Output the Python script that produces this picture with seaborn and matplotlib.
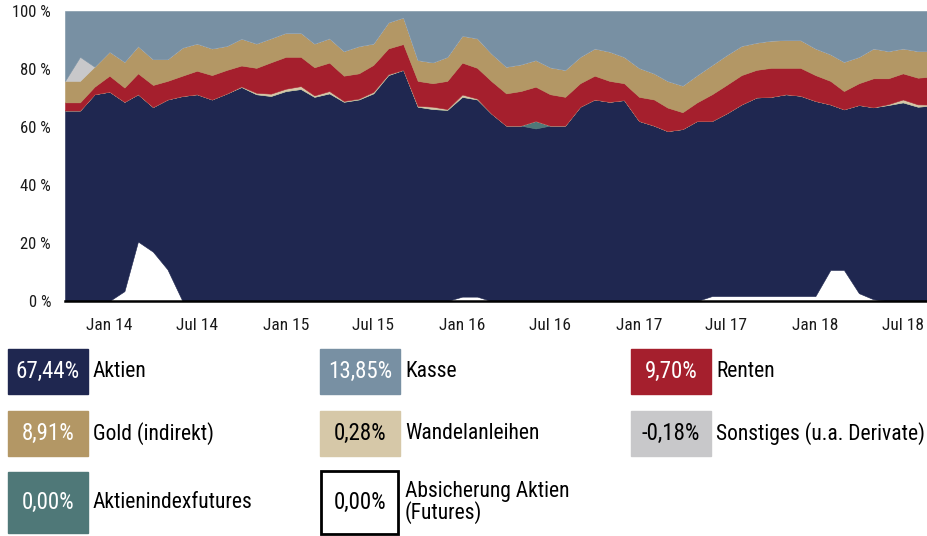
import pandas as pd
import matplotlib.pyplot as plt
from matplotlib.patches import Rectangle
import seaborn as sns

# %% Daten (Anteile in %, monatlich Okt 2013 - Sep 2018)
months = pd.date_range("2013-10-01", periods=60, freq="MS")

aktien = [65.7, 65.7, 71.3, 72.2, 68.7, 71.3, 66.9, 69.5, 70.7, 71.3,
          69.5, 71.6, 73.8, 71.3, 70.7, 72.4, 73.1, 70.4, 71.6, 68.7,
          69.5, 71.6, 77.9, 79.7, 67.0, 66.2, 65.9, 70.4, 69.5, 64.7,
          60.5, 60.5, 59.5, 60.5, 60.5, 67.0, 69.5, 68.7, 69.3, 62.1,
          60.5, 58.6, 59.3, 62.1, 62.1, 64.7, 67.8, 70.2, 70.4, 71.3,
          70.8, 69.0, 67.8, 66.1, 67.6, 66.8, 67.6, 68.5, 67.0, 67.44]
absicherung = [0, 0, 0, 0, 3.4, 20.5, 17.0, 10.9, 0, 0,
               0, 0, 0, 0, 0, 0, 0, 0, 0, 0,
               0, 0, 0, 0, 0, 0, 0, 1.5, 1.5, 0,
               0, 0, 0, 0, 0, 0, 0, 0, 0, 0,
               0, 0, 0, 0, 1.7, 1.7, 1.7, 1.7, 1.7, 1.7,
               1.7, 1.7, 10.7, 10.7, 2.7, 0.6, 0, 0, 0, 0]
indexfutures = [0] * 32 + [2.6] + [0] * 27
wandelanleihen = [0, 0, 0, 0, 0, 0, 0, 0, 0, 0,
                  0, 0, 0.2, 0.5, 0.8, 0.8, 1.0, 0.5, 0.8, 0.3,
                  0.3, 0.5, 0.3, 0, 0.3, 0.8, 0.3, 0.8, 0.3, 0,
                  0, 0, 0, 0, 0, 0, 0, 0, 0, 0,
                  0, 0, 0, 0, 0, 0, 0, 0, 0, 0,
                  0, 0, 0, 0, 0, 0, 0.3, 1.0, 0.8, 0.28]
renten = [2.8, 2.8, 2.6, 5.5, 4.9, 7.2, 7.6, 6.4, 7.0, 8.1,
          8.4, 8.1, 7.2, 8.6, 10.8, 11.0, 10.1, 9.7, 9.8, 8.7,
          8.7, 9.3, 8.9, 8.9, 8.6, 8.1, 9.7, 11.0, 10.6, 11.2,
          11.1, 11.9, 11.8, 10.8, 9.9, 8.1, 8.2, 7.2, 5.8, 8.3,
          9.0, 8.1, 5.8, 6.4, 9.2, 9.8, 10.1, 9.5, 10.0, 9.1,
          9.6, 8.9, 8.1, 6.3, 7.5, 10.0, 8.9, 9.0, 9.2, 9.70]
gold = [7.4, 7.4, 6.9, 8.3, 8.9, 9.4, 8.9, 7.5, 9.7, 9.4,
        9.2, 8.3, 9.3, 8.4, 8.3, 8.3, 8.3, 8.2, 8.4, 8.5,
        9.4, 7.4, 9.0, 9.2, 7.2, 7.2, 8.3, 9.3, 10.2, 9.5,
        9.2, 9.2, 9.2, 9.3, 9.3, 9.1, 9.4, 10.1, 9.1, 10.0,
        9.0, 9.2, 9.2, 9.4, 10.1, 10.3, 10.1, 9.4, 9.4, 9.6,
        9.6, 9.2, 9.2, 10.1, 9.1, 10.3, 9.4, 8.6, 9.2, 8.91]
sonstiges = [0, 8.3] + [0] * 57 + [-0.18]
kasse = [24.1, 15.8, 19.2, 14.0, 17.5, 12.1, 16.6, 16.6, 12.6, 11.2,
         12.9, 12.0, 9.5, 11.2, 9.4, 7.5, 7.5, 11.2, 9.4, 13.8,
         12.1, 11.2, 3.9, 2.2, 16.9, 17.7, 15.8, 8.5, 9.4, 14.6,
         19.2, 18.4, 16.9, 19.4, 20.3, 15.8, 12.9, 14.0, 15.8, 19.6,
         21.5, 24.1, 25.7, 22.1, 18.6, 15.2, 12.0, 10.9, 10.2, 10.0,
         10.0, 12.9, 14.9, 17.5, 15.8, 12.9, 13.8, 12.9, 13.8, 13.85]

# Legende
legend_names = ["Aktien", "Kasse", "Renten",
                "Gold (indirekt)", "Wandelanleihen", "Sonstiges (u.a. Derivate)",
                "Aktienindexfutures", "Absicherung Aktien\n(Futures)"]
legend_values = ["67,44%", "13,85%", "9,70%",
                 "8,91%", "0,28%", "-0,18%",
                 "0,00%", "0,00%"]

colors = {
    "Aktien": "#1f2750",
    "Kasse": "#7890a3",
    "Renten": "#a51f2d",
    "Gold": "#b39765",
    "Wandelanleihen": "#d6c8a8",
    "Sonstiges": "#c8c8ca",
    "Futures": "#4f7878",
    "Absicherung": "#ffffff",
}
box_colors = [colors["Aktien"], colors["Kasse"], colors["Renten"],
              colors["Gold"], colors["Wandelanleihen"], colors["Sonstiges"],
              colors["Futures"], colors["Absicherung"]]
box_text = ["white", "white", "white", "white", "black", "black", "white", "black"]

# %% Plot
sns.set_theme(style="white")
plt.rcParams["font.family"] = ["Roboto Condensed", "Noto Sans", "DejaVu Sans"]
plt.rcParams["font.stretch"] = "condensed"

fig = plt.figure(figsize=(9.27, 5.36), dpi=100)
ax = fig.add_axes([65 / 927, 1 - 301 / 536, 1 - 65 / 927, 290 / 536])

aktien_netto = [a - h for a, h in zip(aktien, absicherung)]
layers = [absicherung, aktien_netto, indexfutures, wandelanleihen,
          renten, gold, sonstiges, kasse]
layer_colors = [colors["Absicherung"], colors["Aktien"], colors["Futures"],
                colors["Wandelanleihen"], colors["Renten"], colors["Gold"],
                colors["Sonstiges"], colors["Kasse"]]
ax.stackplot(months, layers, colors=layer_colors, linewidth=0.4, edgecolor="face")

ax.set_ylim(0, 100)
ax.set_xlim(months[0], months[58] + pd.Timedelta(days=19))
ax.set_yticks(range(0, 101, 20))
ax.set_yticklabels([f"{v} %" for v in range(0, 101, 20)], fontsize=12)

ticks = pd.date_range("2014-01-01", "2018-07-01", freq="6MS")
ax.set_xticks(ticks)
ax.set_xticklabels([("Jan " if t.month == 1 else "Jul ") + t.strftime("%y") for t in ticks],
                   fontsize=12.5)
ax.tick_params(axis="y", length=0, pad=10, colors="#1a1a1a")
ax.tick_params(axis="x", direction="in", length=4, width=1, color="#dddddd",
               pad=12, labelcolor="#1a1a1a")

sns.despine(ax=ax, left=True, right=True, top=True)
ax.spines["bottom"].set_color("black")
ax.spines["bottom"].set_linewidth(1.8)
ax.spines["bottom"].set_zorder(5)

# %% Legende
lax = fig.add_axes([0, 0, 1, 206 / 536])
lax.set_xlim(0, 927)
lax.set_ylim(536, 330)
lax.axis("off")

col_x = [8, 320, 631]
row_y = [349, 411, 472]
row_h = [45, 45, 61]
for k, (name, val) in enumerate(zip(legend_names, legend_values)):
    r, c = divmod(k, 3)
    x0, y0, h = col_x[c], row_y[r], row_h[r]
    if name.startswith("Absicherung"):
        lax.add_patch(Rectangle((x0 + 1, y0 - 1), 77, h + 2, facecolor="white",
                                edgecolor="black", linewidth=2))
    else:
        lax.add_patch(Rectangle((x0, y0), 80, h, facecolor=box_colors[k],
                                edgecolor=box_colors[k], linewidth=1))
    lax.text(x0 + 40, y0 + h / 2, val, color=box_text[k], fontsize=16.5,
             ha="center", va="center")
    lax.text(x0 + 85, y0 + h / 2, name, color="black", fontsize=15.5,
             ha="left", va="center", linespacing=1.0)

fig.savefig("out.png", dpi=100)
